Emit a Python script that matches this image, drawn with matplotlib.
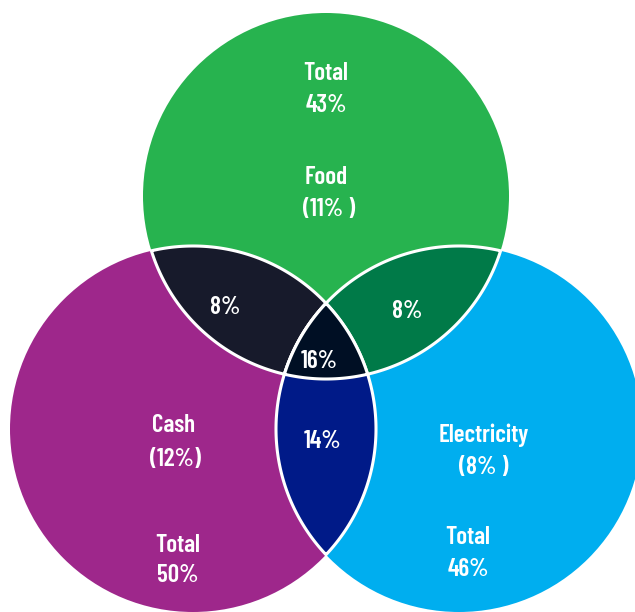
import numpy as np
import matplotlib
matplotlib.use('Agg')
import matplotlib.pyplot as plt
from matplotlib.patches import Circle, Polygon

# sets: name, share inside only this set, total share
set_names = ['Food', 'Cash', 'Electricity']
only_shares = ['(11% )', '(12%)', '(8% )']
total_shares = ['43%', '50%', '46%']
set_colors = ['#27b34f', '#9e278b', '#00aeef']

# pairwise overlaps: (set i, set j, label, colour)
pair_sets = [(0, 1), (0, 2), (1, 2)]
pair_labels = ['8%', '8%', '14%']
pair_colors = ['#171a2b', '#007a48', '#001a88']

triple_label = '16%'
triple_color = '#000f24'

# layout (pixels)
centers = [(326, 196), (193, 429), (459, 429)]
R = 183

plt.rcParams['font.family'] = ['Barlow Condensed', 'DejaVu Sans']

fig = plt.figure(figsize=(6.35, 6.12), dpi=100)
ax = fig.add_axes([0, 0, 1, 1])
ax.set_xlim(0, 635)
ax.set_ylim(612, 0)
ax.set_aspect('equal')
ax.axis('off')


def inside(p, idx):
    cx, cy = centers[idx]
    return (p[0] - cx) ** 2 + (p[1] - cy) ** 2 <= R ** 2 + 1e-6


def region(idxs):
    # intersection of disks is convex: gather boundary points, sort by angle
    pts = []
    t = np.linspace(0, 2 * np.pi, 2000, endpoint=False)
    for i in idxs:
        cx, cy = centers[i]
        for a in t:
            p = (cx + R * np.cos(a), cy + R * np.sin(a))
            if all(inside(p, j) for j in idxs if j != i):
                pts.append(p)
    pts = np.array(pts)
    m = pts.mean(axis=0)
    ang = np.arctan2(pts[:, 1] - m[1], pts[:, 0] - m[0])
    return pts[np.argsort(ang)]


for i in [1, 2, 0]:
    ax.add_patch(Circle(centers[i], R, color=set_colors[i], lw=0))

for (i, j), col in zip(pair_sets, pair_colors):
    ax.add_patch(Polygon(region([i, j]), closed=True, fc=col, ec='white', lw=2.2))

ax.add_patch(Polygon(region([0, 1, 2]), closed=True, fc=triple_color, ec='white', lw=2.2))

txt = dict(color='white', fontsize=18, fontweight=600, ha='center', va='center')

# set labels
name_pos = [(326, 178), (174, 426), (484, 435)]
only_pos = [(329, 209), (175, 459), (484, 468)]
total_pos = [(326, 74), (178, 545), (468, 538)]
for k in range(3):
    ax.text(*name_pos[k], set_names[k], **txt)
    ax.text(*only_pos[k], only_shares[k], **txt)
    tx, ty = total_pos[k]
    ax.text(tx, ty, 'Total', **txt)
    ax.text(tx, ty + 31, total_shares[k], **txt)

pair_pos = [(225, 307), (407, 312), (322, 442)]
for p, lab in zip(pair_pos, pair_labels):
    ax.text(*p, lab, **txt)
ax.text(319, 362, triple_label, **txt)

fig.savefig('out.png', dpi=100)
